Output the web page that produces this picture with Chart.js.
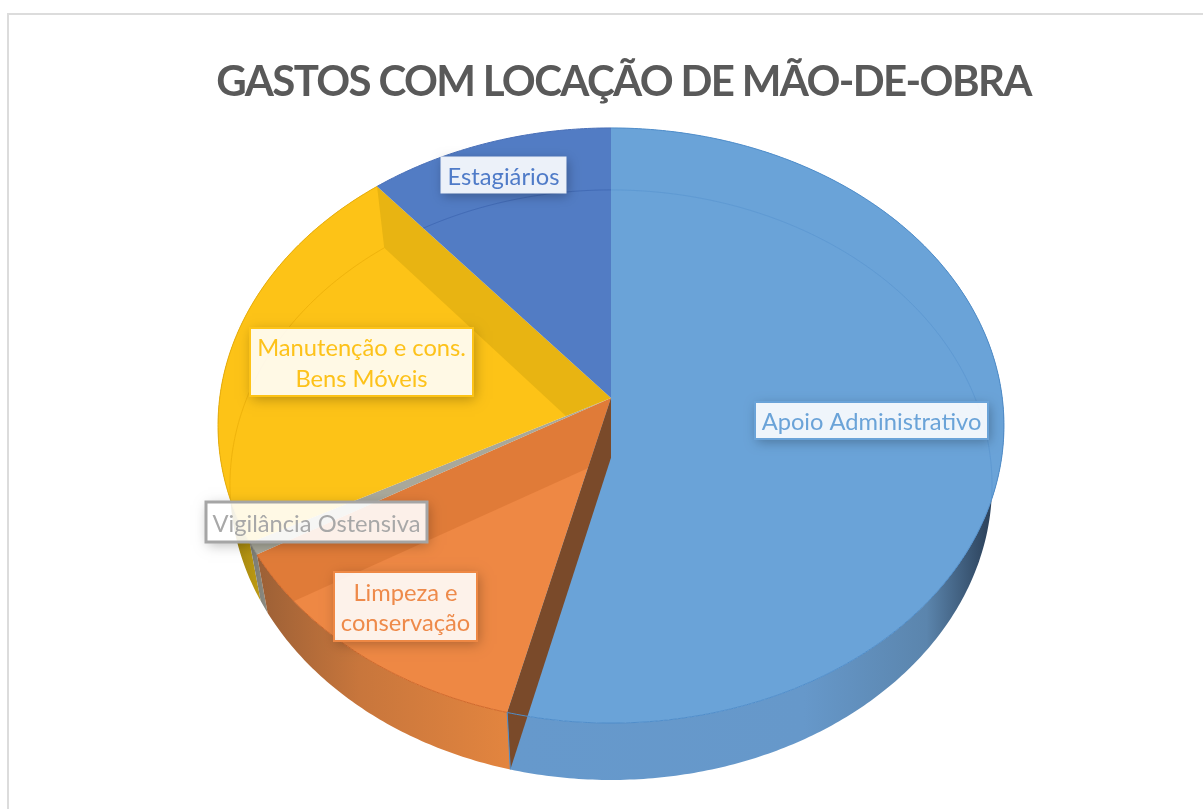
<!DOCTYPE html>
<html lang="pt">
<head>
<meta charset="utf-8">
<title>Gastos com locação de mão-de-obra</title>
<script src="https://cdn.jsdelivr.net/npm/chart.js@4"></script>
<style>
  html, body { margin: 0; background: #fff; overflow: hidden; }
  #moldura { position: absolute; left: 7px; top: 13px; width: 1300px; height: 900px; border: 2px solid #dcdcdc; }
  #grafico { position: absolute; left: 0; top: 0; filter: blur(0.4px); }
</style>
</head>
<body>
<div id="moldura"></div>
<canvas id="grafico" width="1203" height="809"></canvas>
<script>
const categorias = ['Apoio Administrativo', 'Limpeza e conservação', 'Vigilância Ostensiva', 'Manutenção e cons. Bens Móveis', 'Estagiários']
const valores = [53.85, 12.67, 0.67, 21.7, 11.05]
const cores = ['#6aa3d8', '#ee8844', '#a9a89a', '#fdc317', '#527cc4']
const linhasRotulo = [['Apoio Administrativo'], ['Limpeza e', 'conservação'], ['Vigilância Ostensiva'], ['Manutenção e cons.', 'Bens Móveis'], ['Estagiários']]

// caixas dos rotulos [esquerda, topo, largura, altura]
const caixas = [[755, 402, 233, 37], [334, 572, 143, 69], [206, 502, 221, 40], [250, 328, 223, 68], [441, 157, 125, 36]]
const corTexto = ['#6aa3d8', '#ee8a4a', '#a8a8a8', '#fdc21a', '#4f7bc8']
const corCaixa = ['#6aa3d8', '#ee8844', '#a5a5a5', '#fdc317', '#e8eef8']
const larguraCaixa = [2, 2, 3, 2, 1]

// tampa e fundo do disco, em fracoes do raio do arco
const perspectiva = 0.0924
const tampa = { ox: -0.0384, oy: -0.1725, sx: 1.201, sy: 0.9055 }
const fundo = { ox: -0.0384, oy: 0.0107, sx: 1.1645, sy: 0.8978 }

const projetar = (arco, plano, ang) => {
  const u = Math.cos(ang)
  const v = Math.sin(ang)
  const w = 1 - perspectiva * v
  const R = arco.outerRadius
  return { x: arco.x + R * (plano.ox + plano.sx * u / w), y: arco.y + R * (plano.oy + plano.sy * v / w) }
}

const centro = (arco, plano) => ({ x: arco.x + arco.outerRadius * plano.ox, y: arco.y + arco.outerRadius * plano.oy })

const tracarBorda = (ctx, arco, plano, a0, a1) => {
  const passos = Math.max(2, Math.ceil(Math.abs(a1 - a0) * 90))
  for (let i = 0; i <= passos; i++) {
    const p = projetar(arco, plano, a0 + (a1 - a0) * i / passos)
    ctx.lineTo(p.x, p.y)
  }
}

const tracarFatia = (ctx, arco, plano) => {
  const c = centro(arco, plano)
  ctx.beginPath()
  ctx.moveTo(c.x, c.y)
  tracarBorda(ctx, arco, plano, arco.startAngle, arco.endAngle)
  ctx.closePath()
}

const gradienteParede = (ctx, x0, x1, paradas) => {
  const g = ctx.createLinearGradient(x0, 0, x1, 0)
  paradas.forEach(([p, c]) => g.addColorStop(p, c))
  return g
}

const paredeExterna = (ctx, arco, cor) => {
  ctx.beginPath()
  tracarBorda(ctx, arco, tampa, arco.startAngle, arco.endAngle)
  tracarBorda(ctx, arco, fundo, arco.endAngle, arco.startAngle)
  ctx.closePath()
  ctx.fillStyle = cor
  ctx.fill()
}

const paredeRadial = (ctx, arco, ang, cor) => {
  const c0 = centro(arco, tampa)
  const c1 = centro(arco, fundo)
  const p0 = projetar(arco, tampa, ang)
  const p1 = projetar(arco, fundo, ang)
  ctx.beginPath()
  ctx.moveTo(c0.x, c0.y)
  ctx.lineTo(p0.x, p0.y)
  ctx.lineTo(p1.x, p1.y)
  ctx.lineTo(c1.x, c1.y)
  ctx.closePath()
  ctx.fillStyle = cor
  ctx.fill()
}

const pizza3d = {
  id: 'pizza3d',
  beforeDraw(chart) {
    // o titulo do original e bem mais fechado
    chart.ctx.letterSpacing = '-1.65px'
  },
  beforeDatasetsDraw(chart) {
    const ctx = chart.ctx
    ctx.letterSpacing = '0px'
    const arcos = chart.getDatasetMeta(0).data
    const [apoio, limpeza, vigilancia, manutencao, estagiarios] = arcos
    ctx.save()

    // paredes externas, atras das tampas
    paredeExterna(ctx, manutencao, gradienteParede(ctx, 225, 262, [[0, '#6b5a10'], [0.4, '#a88a10'], [1, '#c09c12']]))
    paredeExterna(ctx, vigilancia, gradienteParede(ctx, 248, 270, [[0, '#77776e'], [1, '#8f8f86']]))
    paredeExterna(ctx, limpeza, gradienteParede(ctx, 258, 512, [[0, '#9c6036'], [0.4, '#c8763c'], [1, '#e3853f']]))
    paredeExterna(ctx, apoio, gradienteParede(ctx, 510, 1000, [[0, '#6699cc'], [0.6, '#6698ca'], [0.85, '#5b85ad'], [0.97, '#2f4660'], [1, '#2a3f56']]))

    // tampas
    arcos.forEach((arco) => {
      tracarFatia(ctx, arco, tampa)
      ctx.fillStyle = arco.options.backgroundColor
      ctx.fill()
    })

    // paredes internas vistas pela transparencia
    const dentroDe = (arco, desenho) => {
      ctx.save()
      tracarFatia(ctx, arco, tampa)
      ctx.clip()
      desenho()
      ctx.restore()
    }
    const linhaFundo = (arco, cor) => {
      ctx.beginPath()
      tracarBorda(ctx, arco, fundo, arco.startAngle, arco.endAngle)
      ctx.strokeStyle = cor
      ctx.lineWidth = 1
      ctx.stroke()
    }
    dentroDe(manutencao, () => {
      paredeRadial(ctx, manutencao, manutencao.endAngle, 'rgba(190,150,10,0.33)')
      linhaFundo(manutencao, 'rgba(235,175,10,0.8)')
    })
    dentroDe(estagiarios, () => linhaFundo(estagiarios, 'rgba(60,100,175,0.7)'))
    dentroDe(apoio, () => linhaFundo(apoio, 'rgba(85,145,205,0.55)'))
    dentroDe(limpeza, () => {
      paredeRadial(ctx, limpeza, limpeza.endAngle, 'rgba(205,105,40,0.42)')
      linhaFundo(limpeza, 'rgba(200,95,30,0.8)')
    })

    // face de corte da limpeza, por cima do apoio
    paredeRadial(ctx, limpeza, limpeza.startAngle, '#7a4a2a')

    // bordas da tampa
    const bordas = ['#4f8dca', '#d0682a', '#8a8a80', '#e8ae0c', '#4a70b8']
    arcos.forEach((arco, i) => {
      ctx.beginPath()
      tracarBorda(ctx, arco, tampa, arco.startAngle, arco.endAngle)
      ctx.strokeStyle = bordas[i]
      ctx.lineWidth = 1
      ctx.stroke()
    })

    // aresta azul no inicio da parede do apoio
    const a0 = projetar(limpeza, tampa, limpeza.startAngle)
    const a1 = projetar(limpeza, fundo, limpeza.startAngle)
    ctx.beginPath()
    ctx.moveTo(a0.x, a0.y)
    ctx.lineTo(a1.x, a1.y)
    ctx.strokeStyle = '#4f8dca'
    ctx.stroke()

    // rotulos
    const fonte = 23.7
    arcos.forEach((arco, i) => {
      const [x, y, l, a] = caixas[i]
      // sombra so por fora da caixa, a caixa e translucida
      ctx.save()
      ctx.beginPath()
      ctx.rect(0, 0, chart.width, chart.height)
      ctx.rect(x, y, l, a)
      ctx.clip('evenodd')
      ctx.shadowColor = 'rgba(0,0,0,0.28)'
      ctx.shadowBlur = 12
      ctx.shadowOffsetX = 2
      ctx.shadowOffsetY = 3
      ctx.fillStyle = arco.options.backgroundColor
      ctx.fillRect(x, y, l, a)
      ctx.restore()
      ctx.fillStyle = 'rgba(255,255,255,0.89)'
      ctx.fillRect(x, y, l, a)
      ctx.strokeStyle = corCaixa[i]
      ctx.lineWidth = larguraCaixa[i]
      ctx.strokeRect(x, y, l, a)
      ctx.fillStyle = corTexto[i]
      ctx.font = `${fonte}px Lato`
      ctx.textAlign = 'center'
      ctx.textBaseline = 'middle'
      const linhas = linhasRotulo[i]
      linhas.forEach((t, n) => {
        ctx.fillText(t, x + l / 2, y + a / 2 + 2 + (n - (linhas.length - 1) / 2) * 30.5)
      })
    })
    ctx.restore()
    return false
  },
}

new Chart(document.getElementById('grafico'), {
  type: 'pie',
  data: {
    labels: categorias,
    datasets: [{ data: valores, backgroundColor: cores, borderWidth: 0 }],
  },
  options: {
    responsive: false,
    animation: false,
    layout: { padding: { left: 44, top: 0, right: 0, bottom: 29 } },
    plugins: {
      legend: { display: false },
      tooltip: { enabled: false },
      title: {
        display: true,
        text: 'GASTOS COM LOCAÇÃO DE MÃO-DE-OBRA',
        color: '#595959',
        font: { family: 'Lato', size: 42, weight: 'bold' },
        padding: { top: 57, bottom: 21 },
      },
    },
  },
  plugins: [pizza3d],
})
</script>
</body>
</html>
